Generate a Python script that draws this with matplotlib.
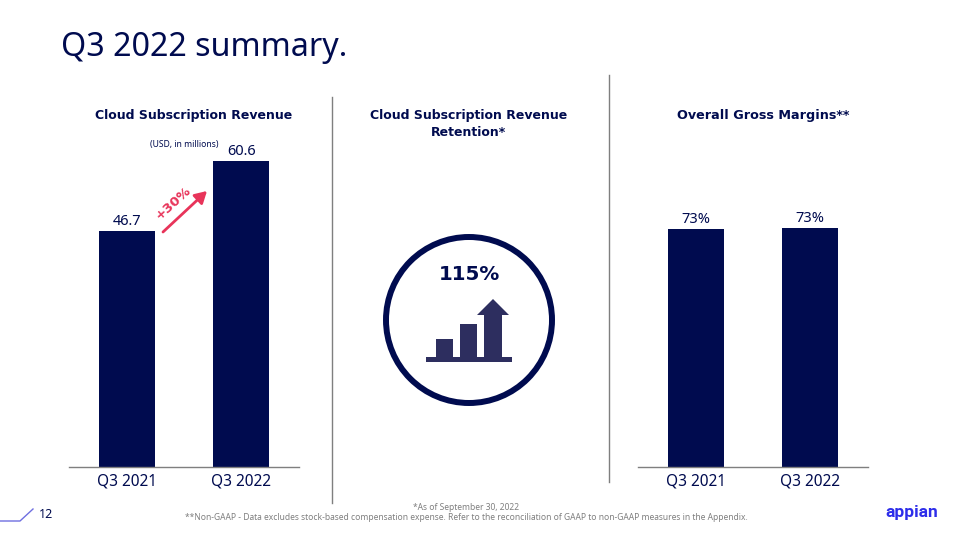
import matplotlib
matplotlib.use("Agg")
import matplotlib.pyplot as plt
from matplotlib.patches import Circle, Polygon, Rectangle

NAVY = "#000b4f"
ICON = "#2d2e5f"
RED = "#e8345a"
GREY = "#7f7f7f"
LOGO = "#2d2dea"

# Noto Sans is closest to the slide's regular weight, DejaVu to its bold
REGULAR = ["Noto Sans", "DejaVu Sans"]
plt.rcParams["font.family"] = ["DejaVu Sans"]

# data
quarters = ["Q3 2021", "Q3 2022"]
revenue = [46.7, 60.6]
revenue_labels = ["46.7", "60.6"]
margins = [72.9, 73.2]
margin_labels = ["73%", "73%"]

W, H = 960, 540


def px_axes(fig, x0, x1, y_top, y_bottom):
    # axes position given in picture pixels, y counted from the top
    return fig.add_axes([x0 / W, 1 - y_bottom / H, (x1 - x0) / W, (y_bottom - y_top) / H])


def bar_panel(fig, x0, x1, y_top, y_bottom, ymax, values, labels):
    ax = px_axes(fig, x0, x1, y_top, y_bottom)
    ax.bar(quarters, values, width=0.487, color=NAVY)
    ax.set_xlim(-0.505, 1.504)
    ax.set_ylim(0, ymax)
    ax.patch.set_alpha(0)
    for s in ["top", "left", "right"]:
        ax.spines[s].set_visible(False)
    ax.spines["bottom"].set_color(GREY)
    ax.spines["bottom"].set_linewidth(1.0)
    ax.set_yticks([])
    ax.tick_params(axis="x", length=0, pad=4.5, labelsize=11.1, labelcolor=NAVY)
    for lab in ax.get_xticklabels():
        lab.set_family(REGULAR)
    for i, v in enumerate(values):
        ax.annotate(labels[i], (i, v), xytext=(0, 1.5), textcoords="offset points",
                    ha="center", va="bottom", fontsize=10.5, color=NAVY, family=REGULAR)
    return ax


fig = plt.figure(figsize=(9.6, 5.4), dpi=100, facecolor="white")

# overlay in pixel coordinates for the slide furniture
bg = fig.add_axes([0, 0, 1, 1])
bg.set_xlim(0, W)
bg.set_ylim(H, 0)
bg.axis("off")

bg.text(61, 48, "Q3 2022 summary.", fontsize=23.2, color=NAVY, ha="left", va="center",
        family=REGULAR)

bg.text(193.5, 116, "Cloud Subscription Revenue", fontsize=9, fontweight="bold",
        color=NAVY, ha="center", va="center")
bg.text(469, 124, "Cloud Subscription Revenue\nRetention*", fontsize=9, fontweight="bold",
        color=NAVY, ha="center", va="center", linespacing=1.3)
bg.text(763, 116, "Overall Gross Margins**", fontsize=9.2, fontweight="bold",
        color=NAVY, ha="center", va="center")
bg.text(184, 145, "(USD, in millions)", fontsize=6.2, color=NAVY, ha="center", va="center",
        family=REGULAR)

# panel dividers
bg.plot([332, 332], [97, 503], color=GREY, lw=1)
bg.plot([609, 609], [75, 482], color=GREY, lw=1)

# growth arrow
bg.annotate("", xy=(207, 191), xytext=(163, 232),
            arrowprops=dict(arrowstyle="-|>,head_length=0.7,head_width=0.4",
                            color=RED, lw=2, shrinkA=0, shrinkB=0))
bg.text(173, 203, "+30%", fontsize=9.6, fontweight="bold", color=RED, rotation=42,
        ha="center", va="center")

# retention badge
bg.add_patch(Circle((469, 320), 83, fill=False, ec=NAVY, lw=4.3))
bg.text(469, 275, "115%", fontsize=14.3, fontweight="bold", color=NAVY, ha="center", va="center")
bg.add_patch(Rectangle((426, 357), 86, 5, color=ICON, lw=0))
bg.add_patch(Rectangle((436, 339), 17, 19, color=ICON, lw=0))
bg.add_patch(Rectangle((460, 324), 17, 34, color=ICON, lw=0))
bg.add_patch(Rectangle((484, 314), 18, 44, color=ICON, lw=0))
bg.add_patch(Polygon([(477, 315), (493, 299), (509, 315)], color=ICON, lw=0))

# footer
bg.text(466, 507, "*As of September 30, 2022", fontsize=6.1, color=GREY, ha="center", va="center",
        family=REGULAR)
bg.text(466, 518, "**Non-GAAP - Data excludes stock-based compensation expense. Refer to the "
        "reconciliation of GAAP to non-GAAP measures in the Appendix.",
        fontsize=6.1, color=GREY, ha="center", va="center", family=REGULAR)
bg.plot([0, 20, 33], [521, 521, 509], color="#6f6fe0", lw=1)
bg.text(46, 515, "12", fontsize=9, color=NAVY, ha="center", va="center", family=REGULAR)
bg.text(912, 513, "appian", fontsize=12.5, fontweight="bold", color=LOGO,
        family=["Roboto", "DejaVu Sans"], ha="center", va="center")

# charts share a pixel scale: 60.6 spans 306 px
bar_panel(fig, 69, 299, 161, 467, 60.6, revenue, revenue_labels)
bar_panel(fig, 638, 868, 161, 467, 93.7, margins, margin_labels)

fig.savefig("out.png", dpi=100)
